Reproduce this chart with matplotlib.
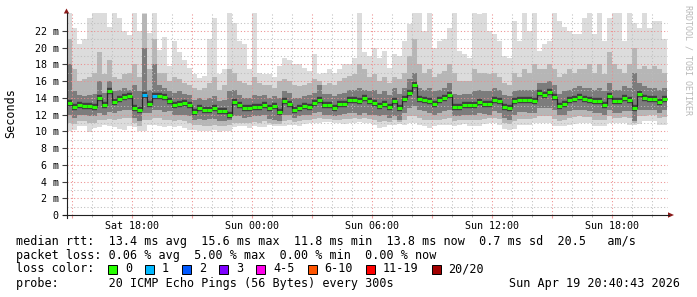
import matplotlib
matplotlib.use("Agg")
import matplotlib.pyplot as plt
from matplotlib.patches import Rectangle, Polygon
import numpy as np

plt.rcParams['font.family'] = 'DejaVu Sans Mono'

# 30 h window, one value every 15 min, time in hours from Sat 00:00
t_start = 14.75
step = 0.25

# median rtt (ms)
median = [13.4, 12.9, 13.2, 13.0, 13.0, 12.9, 14.0, 13.1, 14.8, 13.5, 13.9, 14.1, 14.2, 12.8, 12.6, 14.3, 13.3, 14.2, 14.2, 14.1,
          13.6, 13.1, 13.3, 13.4, 13.2, 12.3, 12.8, 12.5, 12.6, 12.8, 12.4, 12.4, 11.9, 13.5, 13.1, 12.8, 12.8, 12.9, 12.9, 13.1,
          12.8, 13.0, 12.3, 13.6, 13.3, 12.6, 12.8, 13.0, 12.9, 13.4, 13.8, 13.2, 13.2, 12.8, 13.3, 13.3, 13.8, 13.8, 13.6, 14.0,
          13.6, 13.4, 13.0, 13.3, 12.9, 13.6, 12.8, 13.9, 14.6, 15.6, 13.9, 13.7, 13.6, 13.3, 13.8, 14.0, 14.4, 12.9, 12.9, 13.1,
          13.2, 13.2, 13.5, 13.3, 13.3, 13.8, 13.6, 12.9, 12.8, 13.6, 13.8, 13.7, 13.7, 13.6, 14.6, 14.4, 14.7, 14.1, 13.0, 13.3,
          13.8, 13.9, 14.1, 13.9, 13.8, 13.6, 13.6, 13.2, 14.2, 13.6, 13.6, 14.0, 13.8, 12.8, 14.5, 14.0, 13.9, 13.9, 13.5, 13.9]

# smoke: outer (min/max), middle and inner bands
rtt_max = [24.1, 22.3, 20.5, 21.0, 23.5, 24.1, 24.1, 24.1, 22.5, 24.1, 23.5, 22.0, 21.5, 24.1, 22.0, 24.1, 21.7, 24.1, 19.7, 21.3,
           17.8, 20.8, 19.5, 18.5, 17.6, 16.8, 16.4, 16.6, 21.0, 23.5, 16.8, 17.5, 24.1, 23.0, 20.8, 20.5, 17.5, 24.1, 17.0, 16.8,
           16.8, 16.5, 17.8, 18.8, 18.5, 18.0, 18.0, 17.6, 17.2, 19.2, 16.8, 17.0, 17.5, 17.0, 17.4, 18.0, 18.0, 18.8, 24.1, 19.5,
           19.0, 20.0, 18.8, 19.6, 17.6, 19.2, 19.0, 20.8, 22.8, 24.1, 24.1, 22.0, 24.1, 20.0, 20.8, 21.0, 22.4, 24.1, 19.6, 19.2,
           18.8, 24.1, 24.0, 24.1, 22.0, 21.6, 20.8, 19.0, 18.8, 23.2, 20.8, 24.1, 22.0, 24.1, 19.6, 20.5, 20.8, 24.1, 23.2, 22.5,
           22.0, 21.6, 21.6, 23.6, 24.1, 21.6, 24.1, 20.8, 23.6, 24.1, 24.1, 20.8, 24.1, 23.0, 22.4, 24.1, 22.4, 23.2, 23.2, 21.0]
rtt_hi2 = [21.0, 17.5, 16.0, 16.2, 16.5, 17.0, 19.5, 16.8, 18.5, 16.5, 16.2, 16.8, 17.0, 18.0, 16.5, 24.0, 17.5, 21.0, 17.0, 17.0,
           16.0, 16.5, 16.2, 15.8, 15.5, 15.2, 15.0, 15.2, 15.8, 16.5, 15.0, 15.5, 17.5, 17.0, 16.0, 15.8, 15.5, 16.5, 15.8, 15.5,
           15.5, 15.2, 16.0, 16.2, 16.0, 15.5, 15.4, 15.6, 15.8, 16.2, 16.0, 15.6, 15.8, 15.6, 16.0, 16.4, 16.6, 16.8, 18.0, 17.5,
           16.5, 16.8, 16.0, 16.5, 15.8, 16.5, 16.2, 17.0, 19.0, 21.0, 18.0, 17.0, 17.5, 16.5, 16.8, 17.2, 18.0, 17.0, 16.0, 16.0,
           16.0, 17.5, 17.0, 17.0, 16.8, 17.0, 16.5, 15.8, 15.5, 17.0, 16.5, 17.5, 17.0, 18.0, 17.5, 17.5, 18.0, 17.5, 16.5, 16.8,
           17.5, 17.0, 17.5, 17.5, 18.0, 17.0, 18.0, 16.8, 19.5, 18.0, 17.5, 17.0, 18.0, 20.0, 17.5, 17.8, 17.5, 17.8, 17.5, 17.0]
rtt_hi3 = [18.0, 14.8, 14.3, 14.2, 14.3, 14.5, 16.0, 14.6, 16.0, 14.8, 15.0, 15.2, 15.0, 15.5, 14.8, 20.0, 15.0, 18.0, 15.5, 15.2,
           14.8, 14.6, 14.8, 14.5, 14.3, 13.8, 14.0, 13.8, 14.0, 14.2, 13.6, 13.8, 14.8, 15.0, 14.3, 14.0, 14.0, 14.3, 14.2, 14.3,
           14.0, 14.2, 14.0, 14.8, 14.6, 14.0, 14.0, 14.2, 14.3, 14.6, 15.5, 14.5, 14.5, 14.2, 14.5, 14.6, 15.0, 15.0, 15.2, 15.0,
           14.8, 15.0, 14.5, 14.8, 14.3, 15.2, 14.5, 15.2, 16.2, 17.0, 15.2, 15.0, 15.2, 14.8, 15.0, 15.2, 15.8, 14.5, 14.3, 14.5,
           14.5, 14.8, 15.0, 14.8, 14.8, 15.2, 15.0, 14.3, 14.2, 14.8, 15.0, 15.0, 15.0, 15.0, 15.8, 15.8, 16.0, 15.5, 14.5, 14.8,
           15.0, 15.2, 15.4, 15.2, 15.2, 15.0, 15.2, 14.8, 15.8, 15.0, 15.0, 15.4, 15.2, 17.0, 15.8, 15.4, 15.2, 15.2, 15.0, 15.2]
rtt_lo3 = [12.0, 11.6, 12.0, 11.9, 11.8, 11.8, 12.2, 12.0, 12.3, 12.2, 12.4, 12.5, 12.5, 11.6, 11.2, 12.2, 12.2, 12.5, 12.5, 12.3,
           12.4, 12.0, 12.0, 12.0, 11.8, 11.3, 11.5, 11.4, 11.5, 11.5, 11.2, 11.2, 11.4, 11.8, 11.8, 11.6, 11.7, 11.8, 11.8, 12.0,
           11.5, 11.4, 11.2, 12.0, 12.0, 11.6, 11.8, 11.9, 11.9, 12.2, 12.3, 12.0, 12.0, 11.8, 12.0, 12.1, 12.2, 12.2, 12.0, 12.2,
           12.0, 12.0, 11.8, 12.0, 11.6, 11.8, 11.4, 12.2, 12.8, 13.0, 12.5, 12.4, 12.2, 12.0, 12.2, 12.4, 12.6, 11.8, 11.8, 11.9,
           12.0, 12.0, 12.2, 12.1, 12.0, 12.4, 12.2, 11.6, 11.4, 12.0, 12.3, 12.3, 12.2, 12.2, 12.8, 12.8, 12.8, 12.5, 11.9, 12.0,
           12.4, 12.5, 12.6, 12.5, 12.4, 12.2, 12.2, 12.0, 12.6, 12.2, 12.2, 12.4, 12.4, 11.2, 12.6, 12.5, 12.5, 12.5, 12.2, 12.5]
rtt_lo2 = [11.0, 10.9, 11.2, 11.2, 11.0, 11.0, 11.4, 11.4, 11.5, 11.4, 11.5, 11.6, 11.6, 11.0, 10.7, 11.3, 11.4, 11.6, 11.6, 11.4,
           11.4, 11.2, 11.3, 11.2, 11.0, 10.8, 10.8, 10.7, 10.7, 10.8, 10.6, 10.6, 10.8, 11.0, 11.0, 11.0, 11.0, 11.1, 11.0, 11.2,
           11.0, 10.9, 10.9, 11.2, 11.3, 11.1, 11.2, 11.3, 11.3, 11.5, 11.6, 11.5, 11.5, 11.3, 11.4, 11.5, 11.5, 11.6, 11.5, 11.6,
           11.5, 11.3, 11.1, 11.2, 11.1, 11.3, 11.1, 11.4, 11.8, 11.8, 11.6, 11.4, 11.3, 11.3, 11.4, 11.5, 11.6, 11.2, 11.3, 11.4,
           11.3, 11.3, 11.4, 11.5, 11.6, 11.6, 11.5, 11.0, 10.9, 11.2, 11.5, 11.5, 11.5, 11.6, 11.8, 11.8, 11.8, 11.5, 11.2, 11.3,
           11.6, 11.7, 11.8, 11.7, 11.7, 11.4, 11.4, 11.3, 11.8, 11.6, 11.6, 11.7, 11.6, 11.0, 11.8, 11.8, 11.9, 11.9, 11.6, 11.7]
rtt_min = [10.0, 10.2, 10.6, 10.6, 9.9, 10.4, 10.5, 10.8, 10.6, 10.5, 10.3, 10.2, 10.7, 10.5, 10.0, 10.1, 10.8, 10.8, 10.6, 10.5,
           10.6, 10.5, 10.7, 10.4, 10.2, 10.2, 10.0, 10.1, 10.0, 10.2, 9.9, 10.0, 10.1, 10.5, 10.6, 10.6, 10.4, 10.6, 10.5, 10.5,
           10.8, 10.6, 10.6, 10.6, 10.8, 10.8, 10.7, 10.9, 11.0, 11.0, 11.0, 11.1, 11.1, 11.0, 11.0, 10.9, 11.0, 11.0, 11.1, 11.0,
           11.0, 10.8, 10.4, 10.5, 10.8, 10.8, 10.9, 10.8, 11.0, 11.0, 10.8, 10.6, 10.4, 10.7, 10.8, 10.8, 10.8, 10.6, 10.8, 10.9,
           10.6, 10.6, 10.6, 10.9, 11.0, 11.0, 10.8, 10.3, 10.2, 10.3, 10.8, 10.8, 10.8, 11.0, 11.0, 11.0, 11.0, 10.6, 10.6, 10.6,
           10.8, 10.9, 11.0, 11.0, 11.0, 10.6, 10.6, 10.6, 11.0, 11.0, 11.0, 11.0, 10.8, 10.8, 10.9, 11.2, 11.2, 11.2, 10.8, 10.8]

# steps that lost one ping of 20
loss_steps = [15, 17]
loss_labels = ['0', '1', '2', '3', '4-5', '6-10', '11-19', '20/20']
loss_colors = ['#26ff00', '#00b8ff', '#0059ff', '#7e00ff', '#ff00ea', '#ff5500', '#ff0000', '#a10000']

xtick_hours = [18, 24, 30, 36, 42]
xtick_labels = ['Sat 18:00', 'Sun 00:00', 'Sun 06:00', 'Sun 12:00', 'Sun 18:00']

W, H = 697, 297
fig = plt.figure(figsize=(W / 100, H / 100), dpi=100)
fig.patch.set_facecolor('white')
ax = fig.add_axes([67 / W, (H - 215) / H, 601 / W, 202 / H])

edges = t_start + step * np.arange(len(median) + 1)
ax.stairs(rtt_max, edges, baseline=rtt_min, fill=True, color='#dcdcdc', lw=0, zorder=1)
ax.stairs(rtt_hi2, edges, baseline=rtt_lo2, fill=True, color='#b6b6b6', lw=0, zorder=1.1)
ax.stairs(rtt_hi3, edges, baseline=rtt_lo3, fill=True, color='#7c7c7c', lw=0, zorder=1.2)

# median: dark core, thin step connectors, coloured segments by loss
ax.hlines(median, edges[:-1], edges[1:], colors='#404040', lw=4.6, zorder=2.8)
ax.stairs(median, edges, baseline=None, color='#262626', lw=0.9, zorder=3)
seg_cols = [loss_colors[1] if i in loss_steps else loss_colors[0] for i in range(len(median))]
ax.hlines(median, edges[:-1], edges[1:], colors=seg_cols, lw=2.2, zorder=4)

ax.set_xlim(14.75, 44.8)
ax.set_ylim(0, 24.15)

major_x = np.arange(15, 45, 3)
ax.set_xticks(major_x)
ax.set_xticklabels([xtick_labels[xtick_hours.index(h)] if h in xtick_hours else '' for h in major_x])
ax.set_xticks(np.arange(15, 45, 1), minor=True)
ax.set_yticks(np.arange(0, 23, 2))
ax.set_yticklabels(['0'] + ['%d m' % v for v in range(2, 23, 2)])
ax.set_yticks(np.arange(0, 24, 1), minor=True)

ax.set_axisbelow(False)
ax.grid(which='major', color='#ec8c8c', lw=0.75, ls=(0, (1, 2.2)))
ax.grid(which='minor', color='#bdbdbd', lw=0.75, ls=(0, (1, 2.2)))
ax.tick_params(axis='y', which='major', length=3.5, width=0.8, color='#404040', pad=2.5, labelsize=7.2)
ax.tick_params(axis='y', which='minor', length=0)
ax.tick_params(axis='x', which='major', length=2.5, width=0.8, color='#f09a9a', pad=2, labelsize=7.2)
ax.tick_params(axis='x', which='minor', length=1.5, width=0.7, color='#b0b0b0')
for s in ax.spines.values():
    s.set_visible(False)
ax.patch.set_alpha(0)

# overlay in pixel coordinates for axis lines and legend text
ov = fig.add_axes([0, 0, 1, 1])
ov.set_xlim(0, W)
ov.set_ylim(H, 0)
ov.axis('off')
ov.patch.set_alpha(0)

ov.plot([66.5, 66.5], [218, 13], color='#202020', lw=0.8)
ov.plot([63, 669], [215, 215], color='#202020', lw=0.8)
ov.add_patch(Polygon([[63.8, 13.5], [69.2, 13.5], [66.5, 8.5]], closed=True, color='#8b1a1a', lw=0))
ov.add_patch(Polygon([[668, 212.3], [668, 217.7], [674, 215]], closed=True, color='#8b1a1a', lw=0))

ov.text(11, 113, 'Seconds', rotation=90, ha='center', va='center', size=8.5)
ov.text(688, 60, 'RRDTOOL / TOBI OETIKER', rotation=270, ha='center', va='center', size=6, color='#b8b8b8')

fs = 8.5
ov.text(16, 241, 'median rtt:  13.4 ms avg  15.6 ms max  11.8 ms min  13.8 ms now  0.7 ms sd  20.5   am/s',
        ha='left', va='center', size=fs)
ov.text(16, 255, 'packet loss: 0.06 % avg  5.00 % max  0.00 % min  0.00 % now',
        ha='left', va='center', size=fs)
ov.text(16, 269, 'loss color:', ha='left', va='center', size=fs)
bx = 108
for lab, col in zip(loss_labels, loss_colors):
    ov.add_patch(Rectangle((bx, 264.5), 9, 9, facecolor=col, edgecolor='black', lw=0.7))
    ov.text(bx + 17, 269, lab, ha='left', va='center', size=fs)
    bx = bx + 17 + len(lab) * 7.1 + 13
ov.text(16, 283, 'probe:       20 ICMP Echo Pings (56 Bytes) every 300s', ha='left', va='center', size=fs)
ov.text(680, 283, 'Sun Apr 19 20:40:43 2026', ha='right', va='center', size=fs)

fig.savefig('out.png', dpi=100)
